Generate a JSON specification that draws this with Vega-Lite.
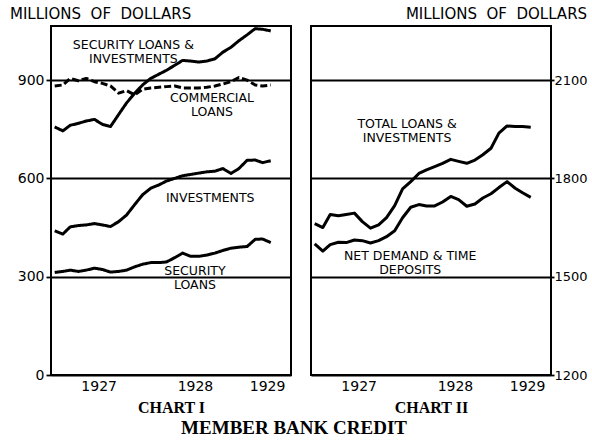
{
  "$schema": "https://vega.github.io/schema/vega-lite/v6.json",
  "background": "white",
  "padding": {"left": 0, "top": 6, "right": 0, "bottom": 0},
  "config": {
    "view": {"stroke": "black", "strokeWidth": 2},
    "font": "DejaVu Sans",
    "axis": {
      "labelFont": "DejaVu Sans", "labelFontSize": 14, "labelColor": "black",
      "domain": false, "gridColor": "black", "gridOpacity": 1, "gridWidth": 1.8,
      "tickColor": "black", "tickWidth": 1.8
    },
    "title": {"font": "DejaVu Sans", "fontSize": 15, "fontWeight": "normal", "color": "black"}
  },
  "datasets": {
    "years": [{"date": "1928-01-01"}, {"date": "1929-01-01"}],
    "chart1": [
      {"date": "1927-01-15", "sli": 757, "cl": 882, "inv": 440, "sl": 313},
      {"date": "1927-02-15", "sli": 745, "cl": 885, "inv": 430, "sl": 316},
      {"date": "1927-03-15", "sli": 762, "cl": 905, "inv": 452, "sl": 320},
      {"date": "1927-04-15", "sli": 768, "cl": 898, "inv": 456, "sl": 316},
      {"date": "1927-05-15", "sli": 775, "cl": 905, "inv": 458, "sl": 320},
      {"date": "1927-06-15", "sli": 780, "cl": 895, "inv": 462, "sl": 326},
      {"date": "1927-07-15", "sli": 765, "cl": 890, "inv": 458, "sl": 322},
      {"date": "1927-08-15", "sli": 758, "cl": 882, "inv": 453, "sl": 314},
      {"date": "1927-09-15", "sli": 795, "cl": 860, "inv": 468, "sl": 316},
      {"date": "1927-10-15", "sli": 830, "cl": 868, "inv": 488, "sl": 320},
      {"date": "1927-11-15", "sli": 860, "cl": 855, "inv": 520, "sl": 330},
      {"date": "1927-12-15", "sli": 885, "cl": 872, "inv": 550, "sl": 338},
      {"date": "1928-01-15", "sli": 905, "cl": 876, "inv": 570, "sl": 343},
      {"date": "1928-02-15", "sli": 918, "cl": 878, "inv": 580, "sl": 343},
      {"date": "1928-03-15", "sli": 930, "cl": 880, "inv": 592, "sl": 345},
      {"date": "1928-04-15", "sli": 945, "cl": 882, "inv": 600, "sl": 358},
      {"date": "1928-05-15", "sli": 960, "cl": 876, "inv": 608, "sl": 372},
      {"date": "1928-06-15", "sli": 958, "cl": 876, "inv": 612, "sl": 362},
      {"date": "1928-07-15", "sli": 955, "cl": 876, "inv": 616, "sl": 362},
      {"date": "1928-08-15", "sli": 958, "cl": 878, "inv": 620, "sl": 366},
      {"date": "1928-09-15", "sli": 965, "cl": 882, "inv": 622, "sl": 372},
      {"date": "1928-10-15", "sli": 985, "cl": 888, "inv": 630, "sl": 380},
      {"date": "1928-11-15", "sli": 1000, "cl": 895, "inv": 615, "sl": 387},
      {"date": "1928-12-15", "sli": 1020, "cl": 908, "inv": 630, "sl": 390},
      {"date": "1929-01-15", "sli": 1038, "cl": 900, "inv": 655, "sl": 392},
      {"date": "1929-02-15", "sli": 1057, "cl": 885, "inv": 656, "sl": 414},
      {"date": "1929-03-15", "sli": 1055, "cl": 882, "inv": 648, "sl": 415},
      {"date": "1929-04-15", "sli": 1050, "cl": 885, "inv": 654, "sl": 404}
    ],
    "chart2": [
      {"date": "1927-01-15", "tot": 1662, "dep": 1600},
      {"date": "1927-02-15", "tot": 1650, "dep": 1578},
      {"date": "1927-03-15", "tot": 1690, "dep": 1598},
      {"date": "1927-04-15", "tot": 1686, "dep": 1605},
      {"date": "1927-05-15", "tot": 1690, "dep": 1604},
      {"date": "1927-06-15", "tot": 1694, "dep": 1612},
      {"date": "1927-07-15", "tot": 1668, "dep": 1610},
      {"date": "1927-08-15", "tot": 1648, "dep": 1603},
      {"date": "1927-09-15", "tot": 1658, "dep": 1610},
      {"date": "1927-10-15", "tot": 1680, "dep": 1622},
      {"date": "1927-11-15", "tot": 1717, "dep": 1640},
      {"date": "1927-12-15", "tot": 1768, "dep": 1680},
      {"date": "1928-01-15", "tot": 1790, "dep": 1712},
      {"date": "1928-02-15", "tot": 1815, "dep": 1720},
      {"date": "1928-03-15", "tot": 1826, "dep": 1716},
      {"date": "1928-04-15", "tot": 1836, "dep": 1716},
      {"date": "1928-05-15", "tot": 1846, "dep": 1728},
      {"date": "1928-06-15", "tot": 1858, "dep": 1745},
      {"date": "1928-07-15", "tot": 1852, "dep": 1735},
      {"date": "1928-08-15", "tot": 1846, "dep": 1715},
      {"date": "1928-09-15", "tot": 1856, "dep": 1722},
      {"date": "1928-10-15", "tot": 1872, "dep": 1740},
      {"date": "1928-11-15", "tot": 1892, "dep": 1753},
      {"date": "1928-12-15", "tot": 1938, "dep": 1772},
      {"date": "1929-01-15", "tot": 1960, "dep": 1790},
      {"date": "1929-02-15", "tot": 1958, "dep": 1770},
      {"date": "1929-03-15", "tot": 1958, "dep": 1756},
      {"date": "1929-04-15", "tot": 1956, "dep": 1742}
    ],
    "labels1": [
      {"date": "1927-11-10", "value": 1007, "label": "SECURITY LOANS &\nINVESTMENTS"},
      {"date": "1928-09-04", "value": 845, "label": "COMMERCIAL\nLOANS"},
      {"date": "1928-08-28", "value": 540, "label": "INVESTMENTS"},
      {"date": "1928-07-01", "value": 317, "label": "SECURITY\nLOANS"}
    ],
    "labels2": [
      {"date": "1928-01-01", "value": 1965, "label": "TOTAL LOANS &\nINVESTMENTS"},
      {"date": "1928-01-13", "value": 1562, "label": "NET DEMAND & TIME\nDEPOSITS"}
    ]
  },
  "title": {"text": "MEMBER BANK CREDIT", "orient": "bottom", "anchor": "middle", "font": "Liberation Serif", "fontSize": 19, "fontWeight": "bold", "offset": 3},
  "spacing": 18,
  "hconcat": [
    {
      "width": 240, "height": 349,
      "title": {"text": "MILLIONS\u00a0\u00a0OF\u00a0\u00a0DOLLARS", "anchor": "start", "frame": "bounds", "offset": 4, "dx": 9},
      "encoding": {
        "x": {"field": "date", "type": "temporal",
          "scale": {"type": "utc", "nice": false, "domain": [{"year": 1927, "month": 1, "date": 1, "utc": true}, {"year": 1929, "month": 7, "date": 1, "utc": true}]},
          "axis": {"values": [{"year": 1927, "month": 7, "date": 1, "utc": true}, {"year": 1928, "month": 7, "date": 1, "utc": true}, {"year": 1929, "month": 4, "date": 1, "utc": true}],
            "format": "%Y", "ticks": false, "grid": false, "labelPadding": 4, "labelFlush": false,
            "title": "CHART I", "titleFont": "Liberation Serif", "titleFontWeight": "bold", "titleFontSize": 16, "titlePadding": 6}},
        "y": {"field": "value", "type": "quantitative",
          "scale": {"domain": [0, 1065], "nice": false, "zero": false},
          "axis": {"values": [0, 300, 600, 900], "format": "d", "grid": true, "tickSize": 5, "labelPadding": 2, "title": null, "minExtent": 50, "maxExtent": 50}}
      },
      "layer": [
        {"data": {"name": "years"}, "mark": {"type": "rule", "stroke": "black", "strokeWidth": 2},
          "encoding": {"y": {"datum": 0}, "y2": {"datum": 1065}}},
        {"data": {"name": "chart1"}, "transform": [{"fold": ["sli", "inv", "sl", "cl"], "as": ["series", "value"]}],
          "mark": {"type": "line", "strokeWidth": 3, "color": "black", "strokeJoin": "round"},
          "encoding": {"strokeDash": {"field": "series", "type": "nominal", "scale": {"domain": ["sli", "inv", "sl", "cl"], "range": [[1, 0], [1, 0], [1, 0], [7, 3]]}, "legend": null}}},
        {"data": {"name": "labels1"}, "mark": {"type": "text", "fontSize": 12.5, "lineBreak": "\n", "lineHeight": 14, "align": "center", "baseline": "middle", "color": "black"},
          "encoding": {"text": {"field": "label"}}}
      ]
    },
    {
      "width": 240, "height": 349,
      "title": {"text": "MILLIONS\u00a0\u00a0OF\u00a0\u00a0DOLLARS", "anchor": "end", "frame": "bounds", "offset": 4},
      "encoding": {
        "x": {"field": "date", "type": "temporal",
          "scale": {"type": "utc", "nice": false, "domain": [{"year": 1927, "month": 1, "date": 1, "utc": true}, {"year": 1929, "month": 7, "date": 1, "utc": true}]},
          "axis": {"values": [{"year": 1927, "month": 7, "date": 1, "utc": true}, {"year": 1928, "month": 7, "date": 1, "utc": true}, {"year": 1929, "month": 4, "date": 1, "utc": true}],
            "format": "%Y", "ticks": false, "grid": false, "labelPadding": 4, "labelFlush": false,
            "title": "CHART II", "titleFont": "Liberation Serif", "titleFontWeight": "bold", "titleFontSize": 16, "titlePadding": 6}},
        "y": {"field": "value", "type": "quantitative",
          "scale": {"domain": [1200, 2265], "nice": false, "zero": false},
          "axis": {"orient": "right", "values": [1200, 1500, 1800, 2100], "format": "d", "labelFontSize": 13, "grid": true, "tickSize": 3, "labelPadding": 0, "title": null}}
      },
      "layer": [
        {"data": {"name": "years"}, "mark": {"type": "rule", "stroke": "black", "strokeWidth": 2},
          "encoding": {"y": {"datum": 1200}, "y2": {"datum": 2265}}},
        {"data": {"name": "chart2"}, "transform": [{"fold": ["tot", "dep"], "as": ["series", "value"]}],
          "mark": {"type": "line", "strokeWidth": 3, "color": "black", "strokeJoin": "round"},
          "encoding": {"detail": {"field": "series", "type": "nominal"}}},
        {"data": {"name": "labels2"}, "mark": {"type": "text", "fontSize": 12.5, "lineBreak": "\n", "lineHeight": 14, "align": "center", "baseline": "middle", "color": "black"},
          "encoding": {"text": {"field": "label"}}}
      ]
    }
  ]
}
